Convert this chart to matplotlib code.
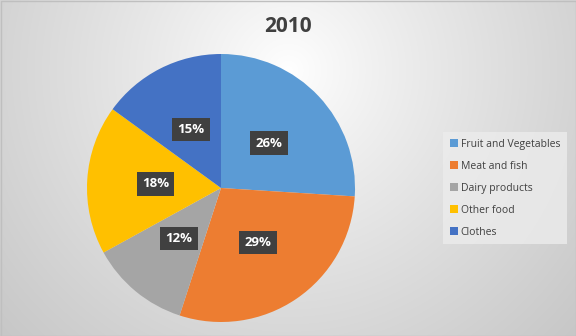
import numpy as np
import matplotlib.pyplot as plt
from matplotlib.patches import Rectangle

categories = ["Fruit and Vegetables", "Meat and fish", "Dairy products", "Other food", "Clothes"]
values = [26, 29, 12, 18, 15]
colors = ["#5B9BD5", "#ED7D31", "#A5A5A5", "#FFC000", "#4472C4"]
title = "2010"

plt.rcParams['font.family'] = ['Open Sans', 'DejaVu Sans']

W, H = 576, 336
fig = plt.figure(figsize=(W / 100, H / 100), dpi=100)

# background radial gradient
bg = fig.add_axes([0, 0, 1, 1])
yy, xx = np.mgrid[0:H, 0:W]
cx, cy = 288, 70
d = np.sqrt((xx - cx) ** 2 + (yy - cy) ** 2)
d = d / d.max()
g = 1.0 - 0.22 * np.clip(d, 0, 1) ** 0.9
img = np.dstack([g, g, g])
bg.imshow(img, extent=[0, W, H, 0], aspect='auto', interpolation='bilinear')
bg.set_xlim(0, W)
bg.set_ylim(H, 0)
bg.axis('off')
bg.add_patch(Rectangle((0.5, 0.5), W - 1, H - 1, fill=False, edgecolor='#bfbfbf', lw=1))

# pie
r = 134
cxp, cyp = 221, 188
ax = fig.add_axes([(cxp - r) / W, 1 - (cyp + r) / H, 2 * r / W, 2 * r / H])
wedges, texts = ax.pie(values, colors=colors, startangle=90, counterclock=False,
                       labels=[f"{v}%" for v in values], labeldistance=0.49,
                       wedgeprops=dict(linewidth=0))
for t in texts:
    t.set_ha('center')
    t.set_va('center')
    t.set_color('white')
    t.set_fontsize(9.5)
    t.set_fontweight('bold')
    t.set_bbox(dict(boxstyle='square,pad=0.4', facecolor='#404040', edgecolor='none'))
ax.set_aspect('equal')
ax.set_xlim(-1, 1)
ax.set_ylim(-1, 1)

fig.text(288 / W, 1 - 26 / H, title, ha='center', va='center', fontsize=15,
         fontweight='bold', color='#404040')

leg = fig.legend(wedges, categories, loc='upper left',
                 bbox_to_anchor=(443 / W, 1 - 132 / H), frameon=True,
                 fontsize=7.5, handlelength=0.75, handleheight=0.75, handletextpad=0.3,
                 labelspacing=1.05, borderpad=0.65, borderaxespad=0, fancybox=False,
                 labelcolor='#404040')
leg.get_frame().set_facecolor('#ececec')
leg.get_frame().set_edgecolor('none')
leg.get_frame().set_alpha(0.8)

fig.savefig('out.png', dpi=100)
